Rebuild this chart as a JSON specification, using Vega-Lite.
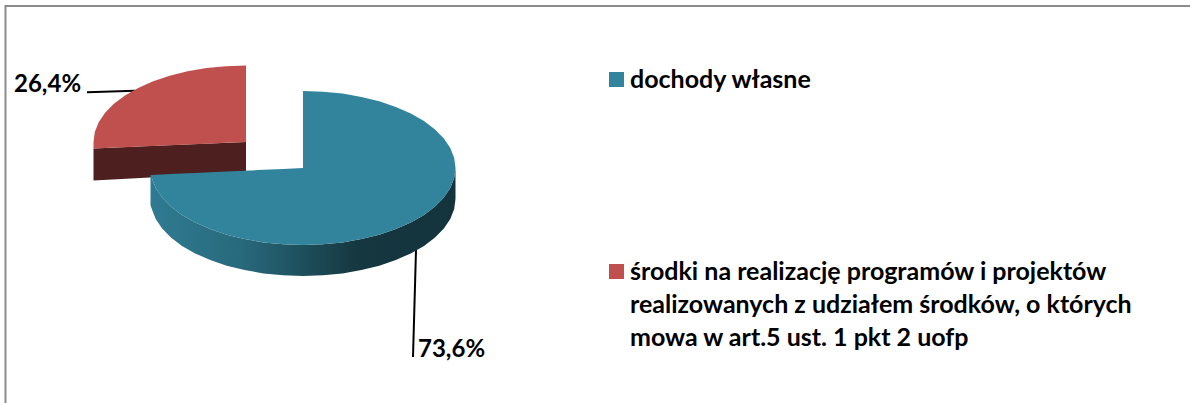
{"$schema":"https://vega.github.io/schema/vega-lite/v6.json","width":1190,"height":403,"padding":0,"autosize":{"type":"none"},"background":"white","config":{"view":{"stroke":null}},
"datasets":{
"frame":[{"x":5.5,"y":403},{"x":5.5,"y":6},{"x":1190,"y":6}],
"leaders":[{"id":"a","x":87,"y":92.2},{"id":"a","x":135,"y":90.8},{"id":"b","x":416,"y":250},{"id":"b","x":413,"y":357}],
"redSide":[{"x":93.5,"y":148.5,"y2":180.5},{"x":150,"y":146.1,"y2":177.5},{"x":246,"y":142,"y2":172.5}],
"blueSide":[{"x":150.5,"y":175,"y2":205},{"x":151.8,"y":178,"y2":209},{"x":155.7,"y":187.9,"y2":218.9},{"x":162.1,"y":197.5,"y2":228.5},{"x":170.9,"y":206.5,"y2":237.5},{"x":182,"y":214.9,"y2":245.9},{"x":195.2,"y":222.4,"y2":253.4},{"x":210.2,"y":229.1,"y2":260.1},{"x":226.7,"y":234.7,"y2":265.7},{"x":244.6,"y":239.1,"y2":270.1},{"x":263.5,"y":242.4,"y2":273.4},{"x":283.1,"y":244.3,"y2":275.3},{"x":303,"y":245,"y2":276},{"x":322.9,"y":244.3,"y2":275.3},{"x":342.5,"y":242.4,"y2":273.4},{"x":361.4,"y":239.1,"y2":270.1},{"x":379.3,"y":234.7,"y2":265.7},{"x":395.8,"y":229.1,"y2":260.1},{"x":410.8,"y":222.4,"y2":253.4},{"x":424,"y":214.9,"y2":245.9},{"x":435,"y":206.5,"y2":237.5},{"x":443.9,"y":197.5,"y2":228.5},{"x":450.3,"y":187.9,"y2":218.9},{"x":454.2,"y":178,"y2":209},{"x":455.5,"y":168,"y2":199}],
"redTop":[
{"x":93.5,"y":142,"y2":148.5},{"x":94.8,"y":132,"y2":148.4},{"x":98.7,"y":122.2,"y2":148.3},{"x":105.1,"y":112.7,"y2":148},{"x":113.9,"y":103.7,"y2":147.6},{"x":125,"y":95.4,"y2":147.2},{"x":138.2,"y":87.9,"y2":146.6},{"x":153.2,"y":81.3,"y2":146},{"x":169.7,"y":75.7,"y2":145.2},{"x":187.6,"y":71.3,"y2":144.5},{"x":206.5,"y":68.1,"y2":143.7},{"x":226.1,"y":66.2,"y2":142.8},{"x":246,"y":65.5,"y2":142}],
"blueTop":[
{"x":150.5,"y":175,"y2":175},{"x":151.8,"y":174.9,"y2":178},{"x":155.7,"y":174.8,"y2":187.9},{"x":162.1,"y":174.5,"y2":197.5},{"x":170.9,"y":174.1,"y2":206.5},{"x":182,"y":173.6,"y2":214.9},{"x":195.2,"y":173,"y2":222.4},{"x":210.2,"y":172.3,"y2":229.1},{"x":226.7,"y":171.5,"y2":234.7},{"x":244.6,"y":170.7,"y2":239.1},{"x":263.5,"y":169.8,"y2":242.4},{"x":283.1,"y":168.9,"y2":244.3},{"x":303,"y":168,"y2":245},{"x":303,"y":91,"y2":245},{"x":322.9,"y":91.7,"y2":244.3},{"x":342.5,"y":93.6,"y2":242.4},{"x":361.4,"y":96.9,"y2":239.1},{"x":379.3,"y":101.3,"y2":234.7},{"x":395.8,"y":106.9,"y2":229.1},{"x":410.8,"y":113.6,"y2":222.4},{"x":424,"y":121.1,"y2":214.9},{"x":435,"y":129.5,"y2":206.5},{"x":443.9,"y":138.5,"y2":197.5},{"x":450.3,"y":148.1,"y2":187.9},{"x":454.2,"y":158,"y2":178},{"x":455.5,"y":168,"y2":168}],
"labels":[{"t":"26,4%","x":14,"y":85},{"t":"73,6%","x":418,"y":350}],
"legendRows":[{"s":"dochody własne"},{"s":"środki na realizację programów i projektów|realizowanych z udziałem środków, o których|mowa w art.5 ust. 1 pkt 2 uofp"}]
},
"layer":[
{"data":{"name":"frame"},"mark":{"type":"line","color":"#8c8c8c","strokeWidth":2},"encoding":{"x":{"field":"x","type":"quantitative","scale":{"domain":[0,1190],"nice":false,"zero":false},"axis":null},"y":{"field":"y","type":"quantitative","sort":null,"scale":{"domain":[403,0],"nice":false,"zero":false},"axis":null}}},
{"data":{"name":"leaders"},"mark":{"type":"line","color":"#000000","strokeWidth":2},"encoding":{"x":{"field":"x","type":"quantitative","axis":null},"y":{"field":"y","type":"quantitative","axis":null},"detail":{"field":"id"}}},
{"data":{"name":"legendRows"},"mark":{"type":"square","size":0,"opacity":0},"encoding":{"color":{"field":"s","type":"nominal","scale":{"domain":["dochody własne","środki na realizację programów i projektów|realizowanych z udziałem środków, o których|mowa w art.5 ust. 1 pkt 2 uofp"],"range":["#31849b","#bf504d"]},"legend":{"title":null,"orient":"none","legendX":604,"legendY":67,"symbolType":"square","symbolSize":225,"symbolStrokeWidth":0,"symbolOpacity":1,"labelFont":"Lato","labelFontWeight":"bold","labelFontSize":25,"labelColor":"#000000","labelLimit":700,"labelOffset":1,"rowPadding":166,"labelBaseline":"middle","labelExpr":"split(datum.label,'|')","encode":{"labels":{"update":{"lineHeight":{"value":33}}}}}}}},
{"data":{"name":"redSide"},"mark":{"type":"area","color":"#4d1f1e"},"encoding":{"x":{"field":"x","type":"quantitative","axis":null},"y":{"field":"y","type":"quantitative","axis":null},"y2":{"field":"y2"}}},
{"data":{"name":"redTop"},"mark":{"type":"area","color":"#bf504d"},"encoding":{"x":{"field":"x","type":"quantitative","axis":null},"y":{"field":"y","type":"quantitative","axis":null},"y2":{"field":"y2"}}},
{"data":{"name":"blueSide"},"mark":{"type":"area","color":{"gradient":"linear","x1":0,"y1":0,"x2":1,"y2":0,"stops":[{"offset":0,"color":"#2f7b92"},{"offset":0.3,"color":"#28697c"},{"offset":0.68,"color":"#153740"},{"offset":1,"color":"#14333d"}]}},"encoding":{"x":{"field":"x","type":"quantitative","axis":null},"y":{"field":"y","type":"quantitative","axis":null},"y2":{"field":"y2"}}},
{"data":{"name":"blueTop"},"mark":{"type":"area","color":"#31849b"},"encoding":{"x":{"field":"x","type":"quantitative","axis":null},"y":{"field":"y","type":"quantitative","axis":null},"y2":{"field":"y2"}}},
{"data":{"name":"labels"},"mark":{"type":"text","font":"Lato","fontWeight":"bold","fontSize":24,"align":"left","baseline":"middle","color":"#000000"},"encoding":{"x":{"field":"x","type":"quantitative","axis":null},"y":{"field":"y","type":"quantitative","axis":null},"text":{"field":"t"}}}
]}
